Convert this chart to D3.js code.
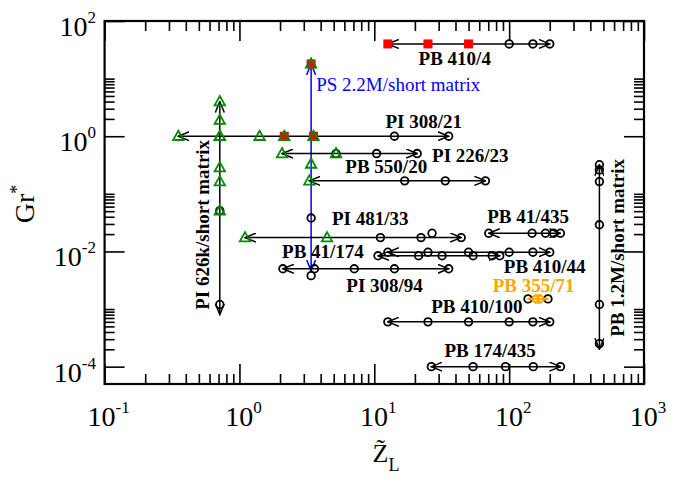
<!DOCTYPE html>
<html>
<head>
<meta charset="utf-8">
<script src="https://cdn.jsdelivr.net/npm/d3@7"></script>
<style>
body { margin: 0; background: #fff; }
text { font-family: "Liberation Serif", "Times New Roman", serif; }
</style>
</head>
<body>
<div id="chart"></div>
<script>
var W = 688, H = 479;

// points are [Z_L, Gr*, marker]; sq = red square, tri = green triangle, circ = open circle, dia = orange diamond
var PB410_4 = [[12.6,40,"sq"],[25,40,"sq"],[50,40,"sq"],[100,40,"circ"],[150,40,"circ"],[200,40,"circ"]];
var PS2M = [[3.4,18,"sq"],[3.4,18,"tri"],[3.4,0.33,"tri"],[3.4,0.038,"circ"],[3.4,0.0038,"circ"]];
var PI308_21 = [[0.352,1,"tri"],[0.715,1,"tri"],[1.41,1,"tri"],[2.15,1,"sq"],[2.15,1,"tri"],[3.54,1,"sq"],[3.54,1,"tri"],[14.1,1,"circ"],[35.6,1,"circ"]];
var PI226_23 = [[2.07,0.5,"tri"],[5.2,0.5,"circ"],[5.2,0.5,"tri"],[10.4,0.5,"circ"],[20.8,0.5,"circ"]];
var PB550_20 = [[3.3,0.168,"tri"],[16.8,0.168,"circ"],[33.6,0.168,"circ"],[66.7,0.168,"circ"]];
var PI626k = [[0.715,4,"tri"],[0.715,1.9,"tri"],[0.715,1,"tri"],[0.715,0.285,"tri"],[0.715,0.163,"tri"],[0.715,0.051,"circ"],[0.715,0.051,"tri"],[0.715,0.0012,"circ"]];
var PI481_33 = [[1.1,0.0174,"tri"],[4.46,0.0174,"tri"],[11.1,0.0174,"circ"],[22.2,0.0174,"circ"],[26.8,0.0207,"circ"],[44.1,0.0174,"circ"]];
var PB41_435 = [[70.6,0.0207,"circ"],[148,0.0207,"circ"],[186,0.0207,"circ"],[214,0.0207,"circ"],[240,0.0207,"circ"]];
var PB410_44 = [[12.6,0.0097,"circ"],[25,0.0097,"circ"],[50,0.0097,"circ"],[100,0.0097,"circ"],[150,0.0097,"circ"],[200,0.0097,"circ"]];
var PB41_174 = [[10.65,0.0084,"circ"],[21.3,0.0084,"circ"],[31.8,0.0084,"circ"],[54,0.0084,"circ"],[74.8,0.0084,"circ"],[85.2,0.0084,"circ"]];
var PI308_94 = [[2.1,0.005,"circ"],[3.6,0.005,"circ"],[7.1,0.005,"circ"],[14.1,0.005,"circ"],[35.6,0.005,"circ"]];
var PB355_71 = [[138,0.0015,"circ"],[157,0.0015,"dia"],[171,0.0015,"dia"],[194,0.0015,"circ"]];
var PB410_100 = [[12.6,0.0006,"circ"],[25,0.0006,"circ"],[50,0.0006,"circ"],[100,0.0006,"circ"],[150,0.0006,"circ"],[200,0.0006,"circ"]];
var PB174_435 = [[26.5,0.0001,"circ"],[54,0.0001,"circ"],[94,0.0001,"circ"],[151,0.0001,"circ"],[240,0.0001,"circ"]];
var PB1_2M = [[467,0.32,"circ"],[467,0.26,"circ"],[467,0.163,"circ"],[467,0.029,"circ"],[467,0.0012,"circ"],[467,0.00025,"circ"]];

// text, Z_L, Gr*, colour, weight, rotated
var labels = [
  ["PB 410/4", 21.3, 17.3, "#000", "bold", false],
  ["PS 2.2M/short matrix", 3.71, 6.1, "#0000ff", "normal", false],
  ["PI 308/21", 12.1, 1.38, "#000", "bold", false],
  ["PI 226/23", 26.8, 0.363, "#000", "bold", false],
  ["PB 550/20", 6.1, 0.228, "#000", "bold", false],
  ["PI 481/33", 4.85, 0.0289, "#000", "bold", false],
  ["PB 41/435", 68.7, 0.031, "#000", "bold", false],
  ["PB 41/174", 2.07, 0.00766, "#000", "bold", false],
  ["PB 410/44", 91.3, 0.0043, "#000", "bold", false],
  ["PB 355/71", 75.5, 0.00201, "#ffa500", "bold", false],
  ["PI 308/94", 6.2, 0.00201, "#000", "bold", false],
  ["PB 410/100", 26.4, 0.00085, "#000", "bold", false],
  ["PB 174/435", 33.1, 0.00015, "#000", "bold", false],
  ["PI 626k/short matrix", 0.59, 0.00097, "#000", "bold", true],
  ["PB 1.2M/short matrix", 706, 0.00033, "#000", "bold", true]
];

var xMajor = [0.1, 1, 10, 100, 1000];
var xExp = ["-1", "0", "1", "2", "3"];
var yMajor = [100, 1, 0.01, 0.0001];
var yExp = ["2", "0", "-2", "-4"];

var series = [
  {pts: PB410_4, color: "#000"},
  {pts: PS2M, color: "#0000ff", from: [3.4, 18], to: [3.4, 0.0046]},
  {pts: PI308_21, color: "#000"},
  {pts: PI226_23, color: "#000"},
  {pts: PB550_20, color: "#000"},
  {pts: PI626k, color: "#000", from: [0.715, 4], to: [0.715, 0.0008]},
  {pts: PI481_33, color: "#000"},
  {pts: PB41_435, color: "#000"},
  {pts: PB410_44, color: "#000"},
  {pts: PB41_174, color: "#000"},
  {pts: PI308_94, color: "#000"},
  {pts: PB355_71, color: "#ffa500"},
  {pts: PB410_100, color: "#000"},
  {pts: PB174_435, color: "#000"},
  {pts: PB1_2M, color: "#000", from: [467, 0.32], to: [467, 0.0002]}
];

var pLeft = 104.6, pRight = 644, pTop = 21, pBottom = 384;

var x = d3.scaleLog().domain([0.1, 1000]).range([pLeft, pRight]);
var y = d3.scaleLog().domain([5e-5, 100]).range([pBottom, pTop]);

var svg = d3.select("#chart").append("svg")
  .attr("width", W)
  .attr("height", H);

var defs = svg.append("defs");
["#000", "#0000ff", "#ffa500"].forEach(function(c, i) {
  defs.append("marker")
    .attr("id", "arr" + i)
    .attr("viewBox", "0 -5 12 10")
    .attr("refX", 11)
    .attr("refY", 0)
    .attr("markerUnits", "userSpaceOnUse")
    .attr("markerWidth", 12)
    .attr("markerHeight", 10)
    .attr("orient", "auto-start-reverse")
    .append("path")
    .attr("d", "M0,-4.5L11,0L0,4.5")
    .attr("fill", "none")
    .attr("stroke", c)
    .attr("stroke-width", 1.5);
});
function arrowId(c) {
  return c == "#0000ff" ? "url(#arr1)" : (c == "#ffa500" ? "url(#arr2)" : "url(#arr0)");
}

// ticks, minor ticks 2..10 above every major one
var xMinor = [];
xMajor.slice(0, -1).forEach(function(m) { for (var k = 2; k <= 9; k++) xMinor.push(m * k); });
var yMinor = [];
yMajor.slice(1).forEach(function(m) { for (var k = 2; k <= 10; k++) yMinor.push(m * k); });

function drawAxis(gen, tr) {
  var g = svg.append("g").attr("transform", tr).call(gen);
  g.select(".domain").remove();
  g.selectAll("line").attr("stroke", "#000").attr("stroke-width", 1.6);
  return g;
}
drawAxis(d3.axisBottom(x).tickValues(xMajor).tickSize(-20).tickFormat(""), "translate(0," + pBottom + ")");
drawAxis(d3.axisBottom(x).tickValues(xMinor).tickSize(-10).tickFormat(""), "translate(0," + pBottom + ")");
drawAxis(d3.axisTop(x).tickValues(xMajor).tickSize(-20).tickFormat(""), "translate(0," + pTop + ")");
drawAxis(d3.axisTop(x).tickValues(xMinor).tickSize(-10).tickFormat(""), "translate(0," + pTop + ")");
drawAxis(d3.axisLeft(y).tickValues(yMajor).tickSize(-20).tickFormat(""), "translate(" + pLeft + ",0)");
drawAxis(d3.axisLeft(y).tickValues(yMinor).tickSize(-10).tickFormat(""), "translate(" + pLeft + ",0)");
drawAxis(d3.axisRight(y).tickValues(yMajor).tickSize(-20).tickFormat(""), "translate(" + pRight + ",0)");
drawAxis(d3.axisRight(y).tickValues(yMinor).tickSize(-10).tickFormat(""), "translate(" + pRight + ",0)");

svg.append("rect")
  .attr("x", pLeft).attr("y", pTop)
  .attr("width", pRight - pLeft).attr("height", pBottom - pTop)
  .attr("fill", "none").attr("stroke", "#000").attr("stroke-width", 2.2);

// tick labels
xMajor.forEach(function(v, i) {
  var t = svg.append("text")
    .attr("x", x(v) + 4).attr("y", 426)
    .attr("text-anchor", "middle")
    .attr("font-size", 28);
  t.append("tspan").text("10");
  t.append("tspan").attr("dy", -13).attr("font-size", 17).text(xExp[i]);
});
yMajor.forEach(function(v, i) {
  var t = svg.append("text")
    .attr("x", 96).attr("y", y(v) + 15)
    .attr("text-anchor", "end")
    .attr("font-size", 28);
  t.append("tspan").text("10");
  t.append("tspan").attr("dy", -13).attr("font-size", 17).text(yExp[i]);
});

// axis titles
var yt = svg.append("text")
  .attr("transform", "translate(34,204) rotate(-90)")
  .attr("text-anchor", "middle")
  .attr("font-size", 28);
yt.append("tspan").text("Gr");
yt.append("tspan").attr("dy", -11).attr("font-size", 18).text("*");

var xt = svg.append("text")
  .attr("x", 386).attr("y", 462)
  .attr("text-anchor", "middle")
  .attr("font-size", 26);
xt.append("tspan").text("Z\u0303");
xt.append("tspan").attr("dy", 9).attr("font-size", 18).text("L");

// lines with arrows at both ends
var plot = svg.append("g");
series.forEach(function(s) {
  var a = s.from, b = s.to;
  if (!a) {
    var xs = s.pts.map(function(p) { return p[0]; });
    a = [d3.min(xs), s.pts[0][1]];
    b = [d3.max(xs), s.pts[0][1]];
  }
  plot.append("line")
    .attr("x1", x(a[0])).attr("y1", y(a[1]))
    .attr("x2", x(b[0])).attr("y2", y(b[1]))
    .attr("stroke", s.color)
    .attr("stroke-width", 1.5)
    .attr("marker-start", arrowId(s.color))
    .attr("marker-end", arrowId(s.color));
});

var allPts = [];
series.forEach(function(s) { allPts = allPts.concat(s.pts); });
function kind(k) { return allPts.filter(function(p) { return p[2] == k; }); }

plot.selectAll(".sq").data(kind("sq")).enter().append("rect")
  .attr("class", "sq")
  .attr("x", function(d) { return x(d[0]) - 4.5; })
  .attr("y", function(d) { return y(d[1]) - 4.5; })
  .attr("width", 9).attr("height", 9)
  .attr("fill", "#ff0000");

plot.selectAll(".circ").data(kind("circ")).enter().append("circle")
  .attr("class", "circ")
  .attr("cx", function(d) { return x(d[0]); })
  .attr("cy", function(d) { return y(d[1]); })
  .attr("r", 3.8)
  .attr("fill", "none")
  .attr("stroke", "#000")
  .attr("stroke-width", 1.8);

plot.selectAll(".tri").data(kind("tri")).enter().append("path")
  .attr("class", "tri")
  .attr("transform", function(d) { return "translate(" + x(d[0]) + "," + y(d[1]) + ")"; })
  .attr("d", "M0,-5.5L5.2,3.8L-5.2,3.8Z")
  .attr("fill", "none")
  .attr("stroke", "#008b00")
  .attr("stroke-width", 1.8);

plot.selectAll(".dia").data(kind("dia")).enter().append("path")
  .attr("class", "dia")
  .attr("transform", function(d) { return "translate(" + x(d[0]) + "," + y(d[1]) + ")"; })
  .attr("d", "M0,-4L4.5,0L0,4L-4.5,0Z")
  .attr("fill", "none")
  .attr("stroke", "#ffa500")
  .attr("stroke-width", 1.6);

// series labels
labels.forEach(function(l) {
  var t = svg.append("text")
    .attr("font-size", 19)
    .attr("font-weight", l[4])
    .attr("fill", l[3])
    .text(l[0]);
  if (l[5]) t.attr("transform", "translate(" + x(l[1]) + "," + y(l[2]) + ") rotate(-90)");
  else t.attr("x", x(l[1])).attr("y", y(l[2]));
});
</script>
</body>
</html>
